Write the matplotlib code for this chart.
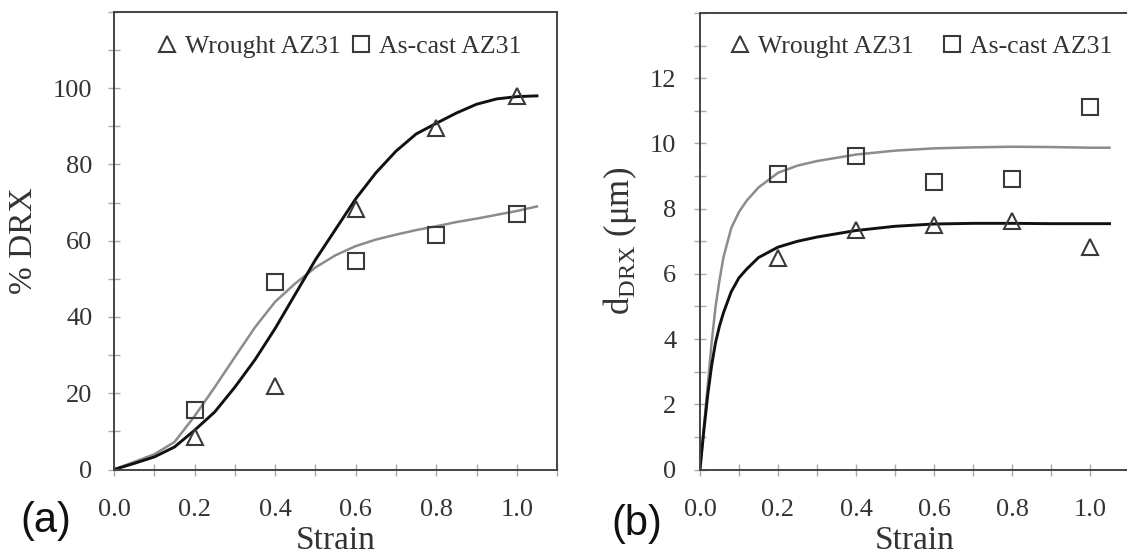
import matplotlib
matplotlib.use("Agg")
import matplotlib.pyplot as plt
from matplotlib.ticker import MultipleLocator

# measured points
strain_pts = [0.2, 0.4, 0.6, 0.8, 1.0]
drx_wrought = [8.6, 21.9, 68.4, 89.7, 98.0]
drx_cast = [15.6, 49.2, 54.8, 61.6, 67.0]
d_wrought = [6.49, 7.36, 7.50, 7.63, 6.81]
d_cast = [9.07, 9.61, 8.81, 8.92, 11.13]

# fitted curves
fit_x_a = [0, 0.05, 0.1, 0.15, 0.2, 0.25, 0.3, 0.35, 0.4, 0.45, 0.5, 0.55,
           0.6, 0.65, 0.7, 0.75, 0.8, 0.85, 0.9, 0.95, 1.0, 1.05]
fit_drx_wrought = [0, 1.6, 3.3, 5.9, 10.3, 15.1, 21.6, 28.8, 37.0, 46.0, 55.0, 63.0,
                   71.0, 77.8, 83.5, 88.0, 90.8, 93.5, 95.8, 97.2, 97.8, 98.0]
fit_drx_cast = [0, 2.0, 4.0, 7.2, 14.0, 21.6, 29.5, 37.3, 44.0, 48.8, 53.0, 56.2,
                58.6, 60.3, 61.6, 62.8, 63.8, 64.9, 65.8, 66.8, 67.8, 69.0]

fit_x_b = [0, 0.01, 0.02, 0.03, 0.04, 0.05, 0.06, 0.08, 0.1, 0.12, 0.15, 0.2,
           0.25, 0.3, 0.4, 0.5, 0.6, 0.7, 0.8, 0.9, 1.0, 1.05]
fit_d_wrought = [0, 1.2, 2.3, 3.2, 3.9, 4.4, 4.8, 5.45, 5.88, 6.15, 6.5, 6.82,
                 7.0, 7.13, 7.33, 7.46, 7.53, 7.55, 7.55, 7.54, 7.54, 7.54]
fit_d_cast = [0, 1.3, 2.6, 3.9, 5.0, 5.8, 6.5, 7.4, 7.9, 8.25, 8.65, 9.1,
              9.32, 9.46, 9.66, 9.78, 9.85, 9.88, 9.9, 9.89, 9.87, 9.87]

x_ticks = [0.0, 0.2, 0.4, 0.6, 0.8, 1.0]
x_tick_labels = ["0.0", "0.2", "0.4", "0.6", "0.8", "1.0"]

plt.rcParams["font.family"] = ["Liberation Serif", "DejaVu Serif"]
plt.rcParams["mathtext.fontset"] = "custom"
plt.rcParams["mathtext.rm"] = "Liberation Serif"

txt = "#333333"
fig = plt.figure(figsize=(11.27, 5.58), dpi=100)
ax1 = fig.add_axes([0.1012, 0.1586, 0.3931, 0.8199])
ax2 = fig.add_axes([0.6211, 0.1586, 0.3807, 0.818])


def style(ax, ymax, ymaj, ymin_loc, ypad):
    ax.set_xlim(0, 1.1)
    ax.set_ylim(0, ymax)
    ax.set_xticks(x_ticks)
    ax.set_xticklabels(x_tick_labels)
    ax.xaxis.set_minor_locator(MultipleLocator(0.1))
    ax.yaxis.set_major_locator(MultipleLocator(ymaj))
    ax.yaxis.set_minor_locator(MultipleLocator(ymin_loc))
    ax.tick_params(which="both", direction="inout", length=9, width=1,
                   color="#aaaaaa", labelsize=19, labelcolor=txt)
    ax.tick_params(axis="y", pad=ypad)
    ax.tick_params(axis="x", pad=17)
    ax.tick_params(which="both", top=False, right=False)
    for s in ax.spines.values():
        s.set_color("#444444")
        s.set_linewidth(1.4)


# (a) fraction recrystallised
ax1.plot(fit_x_a, fit_drx_cast, color="#8c8c8c", lw=1.8, zorder=2)
ax1.plot(fit_x_a, fit_drx_wrought, color="#111111", lw=2.1, zorder=2)
ax1.plot(strain_pts, drx_wrought, ls="none", marker="^", ms=12, mfc="none",
         mec="#3a3a3a", mew=1.5, label="Wrought AZ31", zorder=3)
ax1.plot(strain_pts, drx_cast, ls="none", marker="s", ms=11, mfc="none",
         mec="#3a3a3a", mew=1.5, label="As-cast AZ31", zorder=3)
style(ax1, 120, 20, 10, 11)
ax1.set_yticks([0, 20, 40, 60, 80, 100])
ax1.set_xlabel("Strain", fontsize=24, color=txt, labelpad=3)
ax1.set_ylabel("% DRX", fontsize=24, color=txt, labelpad=10)
ax1.legend(loc="center", bbox_to_anchor=(0.508, 0.925), ncol=2, frameon=False,
           fontsize=18.5, handlelength=0.8, handletextpad=0.3, columnspacing=0.4,
           borderpad=0, labelcolor=txt)

# (b) recrystallised grain size
ax2.plot(fit_x_b, fit_d_cast, color="#8c8c8c", lw=1.8, zorder=2)
ax2.plot(fit_x_b, fit_d_wrought, color="#111111", lw=2.1, zorder=2)
ax2.plot(strain_pts, d_wrought, ls="none", marker="^", ms=12, mfc="none",
         mec="#3a3a3a", mew=1.5, label="Wrought AZ31", zorder=3)
ax2.plot(strain_pts, d_cast, ls="none", marker="s", ms=11, mfc="none",
         mec="#3a3a3a", mew=1.5, label="As-cast AZ31", zorder=3)
style(ax2, 14, 2, 1, 12.5)
ax2.set_yticks([0, 2, 4, 6, 8, 10, 12])
ax2.set_xlabel("Strain", fontsize=24, color=txt, labelpad=3)
ax2.set_ylabel(r"d$_{\mathrm{DRX}}$ ($\mathrm{\mu}$m)", fontsize=25, color=txt, labelpad=8)
ax2.legend(loc="center", bbox_to_anchor=(0.516, 0.927), ncol=2, frameon=False,
           fontsize=18.5, handlelength=0.8, handletextpad=0.3, columnspacing=1.1,
           borderpad=0, labelcolor=txt)

fig.text(0.041, 0.066, "(a)", fontsize=30, family=["Liberation Sans", "DejaVu Sans"],
         ha="center", va="center", color="#111111")
fig.text(0.565, 0.061, "(b)", fontsize=30, family=["Liberation Sans", "DejaVu Sans"],
         ha="center", va="center", color="#111111")

fig.savefig("out.png", dpi=100)
